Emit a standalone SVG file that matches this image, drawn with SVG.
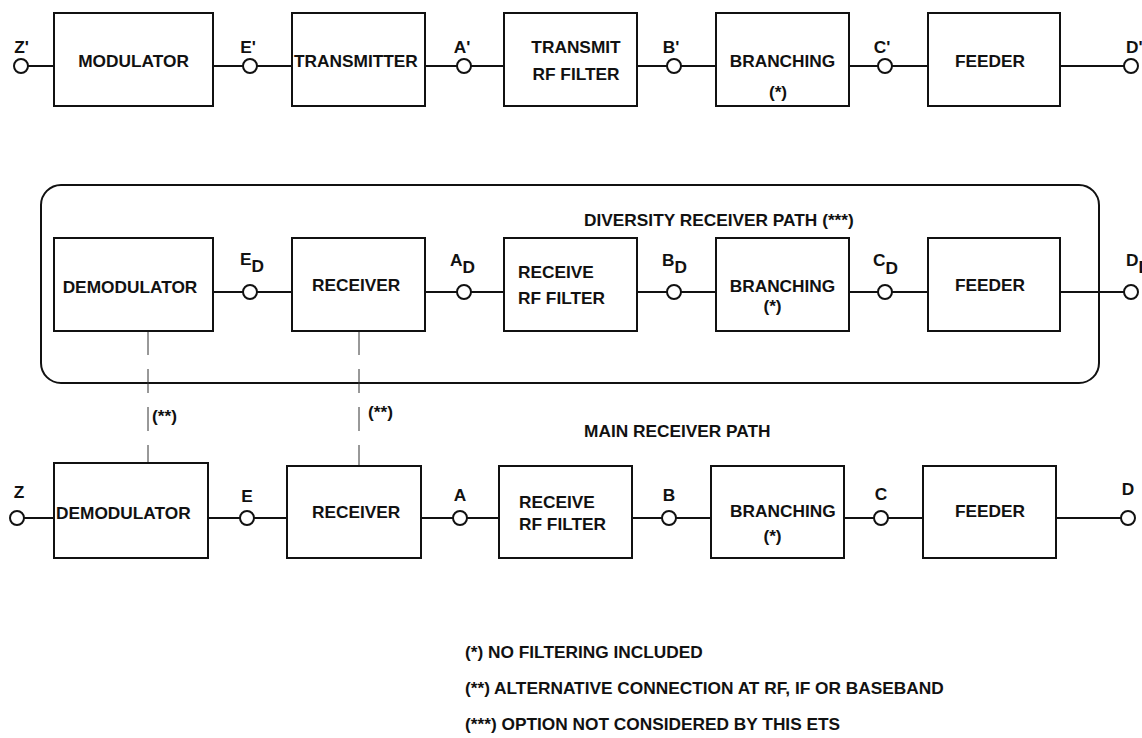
<svg xmlns="http://www.w3.org/2000/svg" width="1142" height="738" viewBox="0 0 1142 738">
<style>
text{font-family:"Liberation Sans",Arial,sans-serif;font-weight:bold;font-size:17.3px;fill:#111}
.box{fill:#fff;stroke:#111;stroke-width:2}
.ln{stroke:#111;stroke-width:2;fill:none}
.pt{fill:#fff;stroke:#111;stroke-width:2}
.dash{stroke:#333;stroke-width:1;stroke-dasharray:24 14;fill:none}
.m{text-anchor:middle}
</style>
<rect width="1142" height="738" fill="#fff"/>
<rect id="diversity-frame" x="41" y="185" width="1058" height="198" rx="20" ry="20" class="ln"/>
<g id="connectors">
<line class="ln" x1="28" y1="66" x2="54" y2="66"/>
<line class="ln" x1="213" y1="66" x2="243" y2="66"/>
<line class="ln" x1="257" y1="66" x2="292" y2="66"/>
<line class="ln" x1="425" y1="66" x2="457" y2="66"/>
<line class="ln" x1="471" y1="66" x2="504" y2="66"/>
<line class="ln" x1="637" y1="66" x2="667" y2="66"/>
<line class="ln" x1="681" y1="66" x2="716" y2="66"/>
<line class="ln" x1="849" y1="66" x2="878" y2="66"/>
<line class="ln" x1="892" y1="66" x2="928" y2="66"/>
<line class="ln" x1="1060" y1="66" x2="1124" y2="66"/>
<line class="ln" x1="213" y1="292" x2="243" y2="292"/>
<line class="ln" x1="257" y1="292" x2="292" y2="292"/>
<line class="ln" x1="425" y1="292" x2="457" y2="292"/>
<line class="ln" x1="471" y1="292" x2="504" y2="292"/>
<line class="ln" x1="637" y1="292" x2="667" y2="292"/>
<line class="ln" x1="681" y1="292" x2="716" y2="292"/>
<line class="ln" x1="849" y1="292" x2="878" y2="292"/>
<line class="ln" x1="892" y1="292" x2="928" y2="292"/>
<line class="ln" x1="1060" y1="292" x2="1124" y2="292"/>
<line class="ln" x1="24" y1="518" x2="54" y2="518"/>
<line class="ln" x1="208" y1="518" x2="240" y2="518"/>
<line class="ln" x1="254" y1="518" x2="287" y2="518"/>
<line class="ln" x1="421" y1="518" x2="453" y2="518"/>
<line class="ln" x1="467" y1="518" x2="499" y2="518"/>
<line class="ln" x1="632" y1="518" x2="662" y2="518"/>
<line class="ln" x1="676" y1="518" x2="711" y2="518"/>
<line class="ln" x1="844" y1="518" x2="874" y2="518"/>
<line class="ln" x1="888" y1="518" x2="923" y2="518"/>
<line class="ln" x1="1056" y1="518" x2="1121" y2="518"/>
<line class="dash" x1="148" y1="331" x2="148" y2="463"/>
<line class="dash" x1="359" y1="331" x2="359" y2="466"/>
</g>
<g id="points">
<circle class="pt" cx="21" cy="66" r="7"/>
<circle class="pt" cx="250" cy="66" r="7"/>
<circle class="pt" cx="464" cy="66" r="7"/>
<circle class="pt" cx="674" cy="66" r="7"/>
<circle class="pt" cx="885" cy="66" r="7"/>
<circle class="pt" cx="1131" cy="66" r="7"/>
<circle class="pt" cx="250" cy="292" r="7"/>
<circle class="pt" cx="464" cy="292" r="7"/>
<circle class="pt" cx="674" cy="292" r="7"/>
<circle class="pt" cx="885" cy="292" r="7"/>
<circle class="pt" cx="1131" cy="292" r="7"/>
<circle class="pt" cx="17" cy="518" r="7"/>
<circle class="pt" cx="247" cy="518" r="7"/>
<circle class="pt" cx="460" cy="518" r="7"/>
<circle class="pt" cx="669" cy="518" r="7"/>
<circle class="pt" cx="881" cy="518" r="7"/>
<circle class="pt" cx="1128" cy="518" r="7"/>
</g>
<g id="point-labels">
<text class="m" x="21.5" y="53">Z'</text>
<text class="m" x="248" y="53">E'</text>
<text class="m" x="462" y="53">A'</text>
<text class="m" x="671" y="53">B'</text>
<text class="m" x="882" y="53">C'</text>
<text x="1126" y="53">D'</text>
<text x="240" y="265">E<tspan dy="7">D</tspan></text>
<text x="450" y="266">A<tspan dy="7">D</tspan></text>
<text x="662" y="266">B<tspan dy="7">D</tspan></text>
<text x="873" y="266">C<tspan dy="8">D</tspan></text>
<text x="1126" y="266">D<tspan dy="7">D</tspan></text>
<text class="m" x="19" y="498">Z</text>
<text class="m" x="247" y="502">E</text>
<text class="m" x="460" y="501">A</text>
<text class="m" x="669" y="501">B</text>
<text class="m" x="881" y="500">C</text>
<text class="m" x="1128" y="495">D</text>
</g>
<g id="modulator"><rect class="box" x="54" y="13" width="159" height="93"/><text class="m" x="133.5" y="67">MODULATOR</text></g>
<g id="transmitter"><rect class="box" x="292" y="13" width="133" height="93"/><text x="294" y="67">TRANSMITTER</text></g>
<g id="transmit-rf-filter"><rect class="box" x="504" y="13" width="133" height="93"/><text class="m" x="576" y="53">TRANSMIT</text><text class="m" x="576" y="80">RF FILTER</text></g>
<g id="branching-tx"><rect class="box" x="716" y="13" width="133" height="93"/><text class="m" x="782.5" y="67">BRANCHING</text><text class="m" x="778" y="98">(*)</text></g>
<g id="feeder-tx"><rect class="box" x="928" y="13" width="132" height="93"/><text class="m" x="990" y="67">FEEDER</text></g>
<text x="584" y="226">DIVERSITY RECEIVER PATH (***)</text>
<g id="demodulator-div"><rect class="box" x="54" y="238" width="159" height="93"/><text class="m" x="130" y="293">DEMODULATOR</text></g>
<g id="receiver-div"><rect class="box" x="292" y="238" width="133" height="93"/><text x="312" y="291">RECEIVER</text></g>
<g id="receive-rf-filter-div"><rect class="box" x="504" y="238" width="133" height="93"/><text x="518" y="278">RECEIVE</text><text x="518" y="304">RF FILTER</text></g>
<g id="branching-div"><rect class="box" x="716" y="238" width="133" height="93"/><text class="m" x="782.5" y="292">BRANCHING</text><text class="m" x="772.5" y="312">(*)</text></g>
<g id="feeder-div"><rect class="box" x="928" y="238" width="132" height="93"/><text class="m" x="990" y="291">FEEDER</text></g>
<text x="152" y="422">(**)</text>
<text x="368" y="418">(**)</text>
<text x="584" y="437">MAIN RECEIVER PATH</text>
<g id="demodulator-main"><rect class="box" x="54" y="463" width="154" height="95"/><text x="56" y="519">DEMODULATOR</text></g>
<g id="receiver-main"><rect class="box" x="287" y="466" width="134" height="92"/><text x="312" y="518">RECEIVER</text></g>
<g id="receive-rf-filter-main"><rect class="box" x="499" y="466" width="133" height="92"/><text x="519" y="508">RECEIVE</text><text x="519" y="530">RF FILTER</text></g>
<g id="branching-main"><rect class="box" x="711" y="466" width="133" height="92"/><text x="730" y="517">BRANCHING</text><text class="m" x="772.5" y="542">(*)</text></g>
<g id="feeder-main"><rect class="box" x="923" y="466" width="133" height="92"/><text class="m" x="990" y="517">FEEDER</text></g>
<g id="notes">
<text x="465" y="658">(*) NO FILTERING INCLUDED</text>
<text x="465" y="694">(**) ALTERNATIVE CONNECTION AT RF, IF OR BASEBAND</text>
<text x="465" y="730">(***) OPTION NOT CONSIDERED BY THIS ETS</text>
</g>
</svg>
